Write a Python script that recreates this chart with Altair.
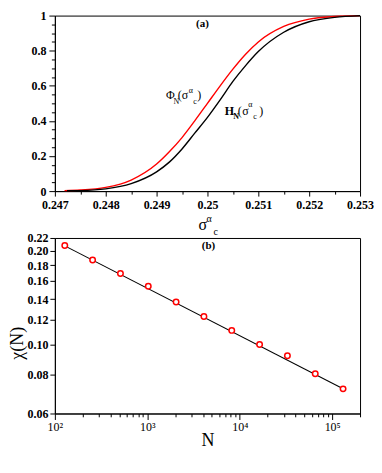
import altair as alt
import pandas as pd

SERIF = "Liberation Serif"

# ---------------- panel (a) data ----------------
phi_sigma = [0.24719, 0.2475, 0.248, 0.2485, 0.249, 0.24925, 0.2495, 0.24975, 0.25,
             0.25025, 0.2505, 0.25075, 0.251, 0.2515, 0.252, 0.2525, 0.253]
phi_values = [0.003, 0.006, 0.021, 0.063, 0.154, 0.224, 0.305, 0.40, 0.50,
              0.60, 0.695, 0.78, 0.85, 0.938, 0.98, 0.995, 1.0]
h_sigma = [0.24724, 0.2475, 0.248, 0.2485, 0.249, 0.24925, 0.2495, 0.24975, 0.25,
           0.25025, 0.2505, 0.25075, 0.251, 0.2515, 0.252, 0.2525, 0.253]
h_values = [0.002, 0.003, 0.013, 0.043, 0.11, 0.165, 0.24, 0.33, 0.42,
            0.52, 0.625, 0.715, 0.795, 0.905, 0.965, 0.99, 1.0]

a_x_major = [0.247, 0.248, 0.249, 0.25, 0.251, 0.252, 0.253]
a_x_minor = [0.2475, 0.2485, 0.2495, 0.2505, 0.2515, 0.2525]
a_y_major = [0, 0.2, 0.4, 0.6, 0.8, 1]
a_y_minor = [0.05, 0.1, 0.15, 0.25, 0.3, 0.35, 0.45, 0.5, 0.55,
             0.65, 0.7, 0.75, 0.85, 0.9, 0.95]

# label anchors (data coords) for the curve annotations
phi_label_at = (0.249183, 0.526)
h_label_at = (0.250342, 0.435)

# ---------------- panel (b) data ----------------
n_values = [128, 256, 512, 1024, 2048, 4096, 8192, 16384, 32768, 65536, 131072]
chi_values = [0.208, 0.187, 0.169, 0.154, 0.137, 0.123, 0.111, 0.100, 0.092, 0.0805, 0.072]
fit_n = [128, 131072]
fit_chi = [0.2075, 0.0721]

b_y_ticks = [0.06, 0.08, 0.10, 0.12, 0.14, 0.16, 0.18, 0.20, 0.22]
b_x_major = [100, 1000, 10000, 100000]
b_x_labels = ["10\u00b2", "10\u00b3", "10\u2074", "10\u2075"]
b_x_minor = [200, 300, 400, 500, 600, 700, 800, 900,
             2000, 3000, 4000, 5000, 6000, 7000, 8000, 9000,
             20000, 30000, 40000, 50000, 60000, 70000, 80000, 90000, 200000]


def arr(v):
    return "[" + ",".join(repr(x) for x in v) + "]"


def is_major(vals):
    return f"indexof({arr(vals)}, datum.value) >= 0"


W = 306
HA = 176
HB = 176

# ---------------- panel (a) ----------------
curves = pd.concat([
    pd.DataFrame({"sigma": phi_sigma, "F": phi_values, "curve": "Phi"}),
    pd.DataFrame({"sigma": h_sigma, "F": h_values, "curve": "H"}),
])

xa = alt.X(
    "sigma:Q",
    scale=alt.Scale(domain=[0.247, 0.253], nice=False, zero=False),
    axis=alt.Axis(
        values=sorted(a_x_major + a_x_minor),
        labelExpr=f"{is_major(a_x_major)} ? format(datum.value, '.3~f') : ''",
        tickSize={"condition": {"test": is_major(a_x_major), "value": 5}, "value": 3},
        title=None, labelFlush=False, labelOverlap=False, grid=False,
        labelFontWeight="bold", labelFontSize=12, labelPadding=3,
    ),
)
ya = alt.Y(
    "F:Q",
    scale=alt.Scale(domain=[0, 1], nice=False),
    axis=alt.Axis(
        values=sorted(a_y_major + a_y_minor),
        labelExpr=f"{is_major(a_y_major)} ? format(datum.value, '~g') : ''",
        tickSize={"condition": {"test": is_major(a_y_major), "value": 6}, "value": 3.5},
        title=None, labelOverlap=False, labelFlush=False, grid=False,
        labelFontWeight="bold", labelFontSize=12, labelPadding=3,
    ),
)

curve_layer = alt.Chart(curves).mark_line(strokeWidth=1.4, interpolate="monotone").encode(
    x=xa, y=ya,
    color=alt.Color("curve:N", scale=alt.Scale(domain=["Phi", "H"], range=["#ff0000", "#000000"]), legend=None),
    detail="curve:N",
)


def rich_label(anchor, segs):
    df = pd.DataFrame({"sigma": [anchor[0]], "F": [anchor[1]]})
    layers = []
    for txt, dx, dy, size, weight in segs:
        layers.append(
            alt.Chart(df).mark_text(
                text=txt, align="left", baseline="alphabetic", dx=dx, dy=dy,
                fontSize=size, fontWeight=weight, font=SERIF, color="black",
            ).encode(x=xa, y=ya)
        )
    return layers


phi_segs = [("\u03a6", 0, 0, 12, "normal"), ("N", 7.5, 5, 8, "normal"), ("(", 12, 0, 12, "normal"),
            ("\u03c3", 16, 0, 12, "normal"), ("\u03b1", 23, -6, 8, "normal"),
            ("c", 27.5, 5, 8, "normal"), (")", 31.5, 0, 12, "normal")]
h_segs = [("H", 0, 0, 12, "bold"), ("N", 8.5, 4, 8, "bold"), ("(", 13, 0, 12, "normal"),
          ("\u03c3", 17.5, 0, 12, "normal"), ("\u03b1", 23.5, -8, 8, "normal"),
          ("c", 28.5, 4, 8, "normal"), (")", 34.5, 0, 12, "normal")]

one = pd.DataFrame({"k": [0]})


def pix_text(txt, x, y, size, weight="normal", align="left"):
    return alt.Chart(one).mark_text(
        text=txt, align=align, baseline="alphabetic", fontSize=size,
        fontWeight=weight, font=SERIF, color="black",
    ).encode(x=alt.value(x), y=alt.value(y))


top = alt.layer(
    curve_layer,
    *rich_label(phi_label_at, phi_segs),
    *rich_label(h_label_at, h_segs),
    pix_text("(a)", 148, 11, 11, "bold", "center"),
    pix_text("\u03c3", 144, HA + 38.5, 16),
    pix_text("\u03b1", 152, HA + 31, 10),
    pix_text("c", 159, HA + 44, 10),
).properties(width=W, height=HA)

# ---------------- panel (b) ----------------
pts = pd.DataFrame({"N": n_values, "chi": chi_values})
fit = pd.DataFrame({"N": fit_n, "chi": fit_chi})

label_expr_b = " : ".join(f"datum.value == {v} ? '{l}'" for v, l in zip(b_x_major, b_x_labels)) + " : ''"

xb = alt.X(
    "N:Q",
    scale=alt.Scale(type="log", domain=[100, 200000], nice=False),
    axis=alt.Axis(
        values=sorted(b_x_major + b_x_minor),
        labelExpr=label_expr_b,
        tickSize={"condition": {"test": is_major(b_x_major), "value": 6}, "value": 3.3},
        title="N", titleFontSize=18, titleFontWeight="normal", titlePadding=-1,
        labelFlush=False, labelOverlap=False, grid=False,
        labelFontSize=12, labelPadding=2,
    ),
)
yb = alt.Y(
    "chi:Q",
    scale=alt.Scale(type="log", domain=[0.06, 0.22], nice=False),
    axis=alt.Axis(
        values=b_y_ticks, format=".2f", tickSize=5,
        title="\u03c7(N)", titleFontSize=18, titleFontWeight="normal", titlePadding=0,
        titleY=105, labelOverlap=False, labelFlush=False, grid=False,
        labelFontWeight="bold", labelFontSize=12, labelPadding=2,
    ),
)

fit_layer = alt.Chart(fit).mark_line(color="black", strokeWidth=1.1).encode(x=xb, y=yb)
pt_layer = alt.Chart(pts).mark_point(
    shape="circle", filled=True, fill="white", stroke="#ff0000", strokeWidth=1.5, size=30, opacity=1
).encode(x=xb, y=yb)

bottom = alt.layer(
    fit_layer, pt_layer,
    pix_text("(b)", 154, 11, 11, "bold", "center"),
).properties(width=W, height=HB)

chart = alt.vconcat(top, bottom, spacing=47, bounds="flush").properties(
    padding=0
).configure_view(
    stroke="black", strokeWidth=1
).configure_axis(
    domainColor="black", tickColor="black", labelColor="black", titleColor="black",
    labelFont=SERIF, titleFont=SERIF, domainWidth=1, tickWidth=1, labelOverlap=False,
)

chart.save("out.html", embed_options={"renderer": "svg", "actions": False})
